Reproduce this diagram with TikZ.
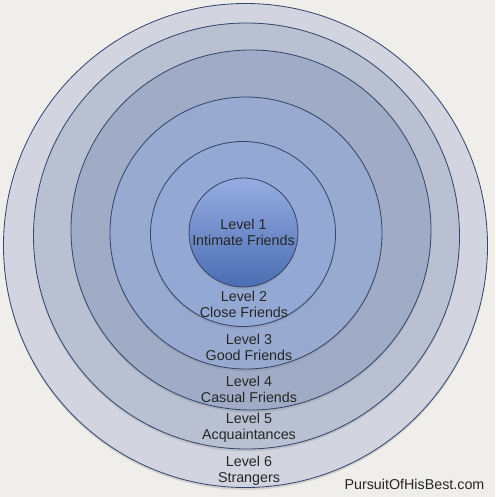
\documentclass[tikz,border=0pt]{standalone}
\usepackage{fontspec}
\setmainfont{Liberation Sans}
\usetikzlibrary{shadows}

\definecolor{paper}{HTML}{EFEEEB}
\definecolor{rim}{HTML}{34456E}
\definecolor{ring6}{HTML}{D2D5DF}
\definecolor{ring5}{HTML}{B9C0D2}
\definecolor{ring4}{HTML}{A0ACC6}
\definecolor{ring3}{HTML}{98AACF}
\definecolor{ring2}{HTML}{93A9D3}
\definecolor{core top}{HTML}{97ADE2}
\definecolor{core bottom}{HTML}{4A6DB2}

\tikzset{
  ring/.style={circle,draw=rim,line width=0.7pt,inner sep=0pt,
    drop shadow={shadow xshift=0pt,shadow yshift=-2pt,opacity=0.25}},
  lvl/.style={align=center,font=\fontsize{12.2}{13.8}\selectfont,text=black!85}
}

\begin{document}
\begin{tikzpicture}[x=0.03cm,y=-0.03cm]
  \fill[paper] (0,0) rectangle (495,497);

  \node[ring,fill=ring6,minimum size=14.52cm] (c6) at (245.5,245.5) {};
  \node[ring,fill=ring5,minimum size=12.78cm] (c5) at (246.5,236) {};
  \node[ring,fill=ring4,minimum size=10.8cm]  (c4) at (251,230) {};
  \node[ring,fill=ring3,minimum size=8.16cm]  (c3) at (246,233) {};
  \node[ring,fill=ring2,minimum size=5.55cm]  (c2) at (243,234) {};
  \node[ring,top color=core top,bottom color=core bottom,minimum size=3.27cm,lvl] (c1) at (243.5,232.5) {Level 1\\Intimate Friends};

  \node[lvl] (t2) at (244,304) {Level 2\\Close Friends};
  \node[lvl] (t3) at (249,347) {Level 3\\Good Friends};
  \node[lvl] (t4) at (249,389) {Level 4\\Casual Friends};
  \node[lvl] (t5) at (249,428) {Level 5\\Acquaintances};
  \node[lvl] (t6) at (249,471) {Level 6\\Strangers};

  \node[lvl] (site) at (414.5,484) {PursuitOfHisBest.com};
\end{tikzpicture}
\end{document}
